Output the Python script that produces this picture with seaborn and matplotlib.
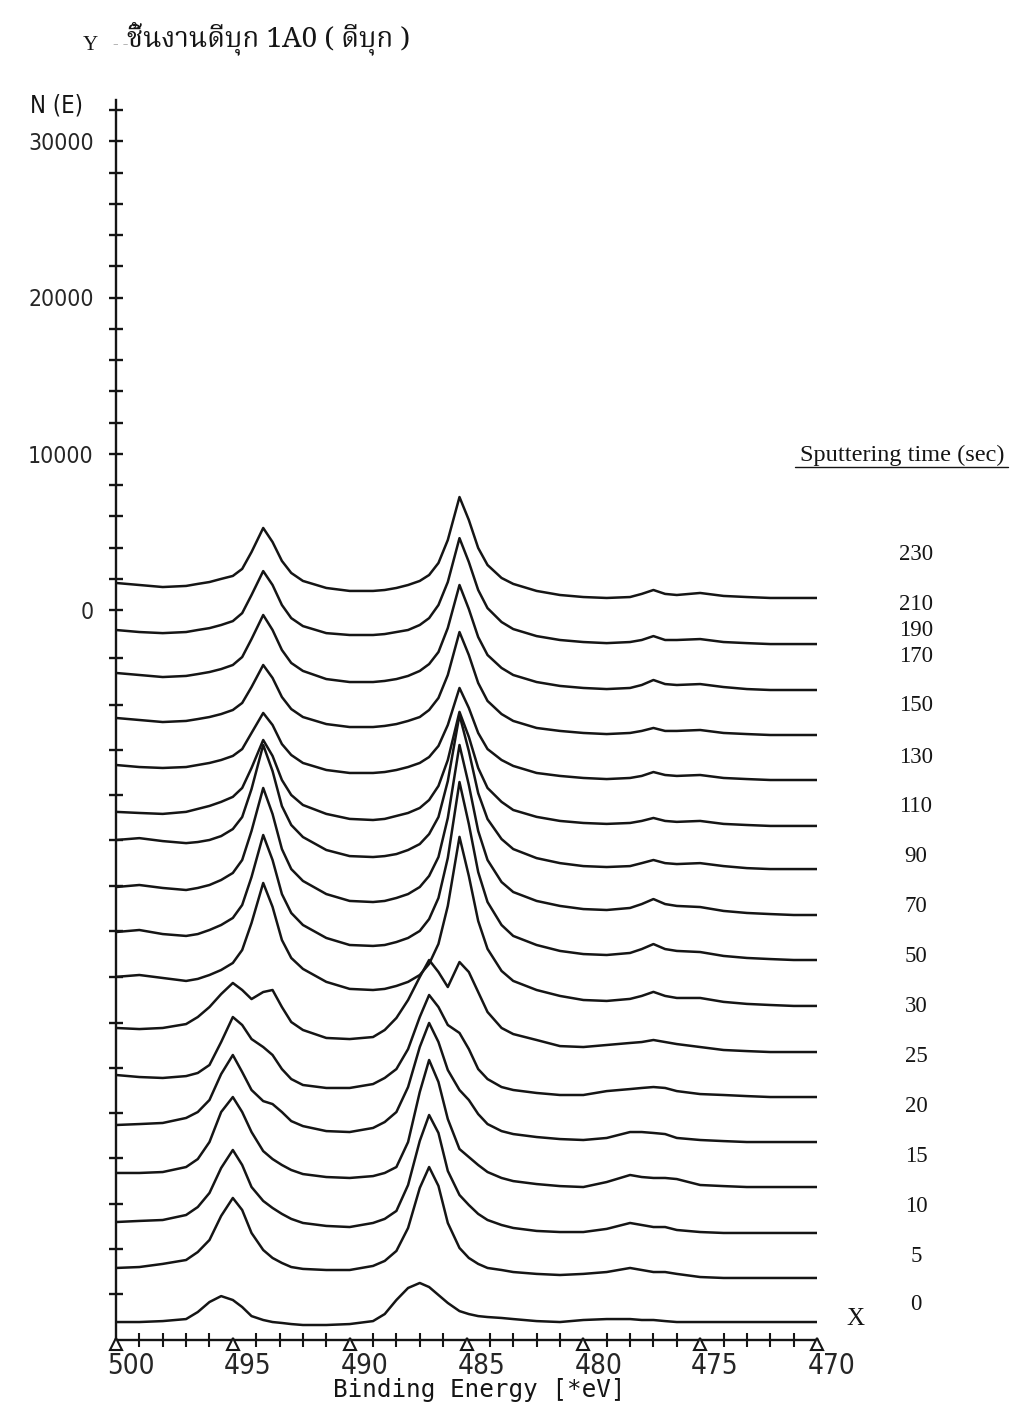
import numpy as np
import pandas as pd
import seaborn as sns
import matplotlib
matplotlib.use("Agg")
import matplotlib.pyplot as plt
from matplotlib import font_manager, ft2font
from matplotlib import transforms as mtransforms
from matplotlib.lines import Line2D

# ---------------- data ----------------
energy = [500, 499, 498, 497, 496.5, 496, 495.5, 495.0, 494.6, 494.2, 493.7, 493.3,
          492.9, 492.5, 492, 491, 490, 489, 488.5, 488, 487.5, 487.0, 486.6, 486.2,
          485.8, 485.3, 484.9, 484.5, 484.1, 483.5, 483, 482, 481, 480, 479, 478,
          477.5, 477, 476.5, 476, 475, 474, 473, 472, 471, 470]

sputter_times = [230, 210, 190, 170, 150, 130, 110, 90, 70, 50, 30, 25, 20, 15, 10, 5, 0]

# vertical offset of every spectrum (N(E) counts at the 470 eV end)
offsets = [770, -2180, -5120, -8000, -10880, -13820, -16580, -19520, -22400,
           -25340, -28290, -31170, -34050, -36930, -39870, -42750, -45570]

# N(E) above each spectrum's own offset, counts
n_230 = [960, 830, 700, 770, 900, 1020, 1220, 1410, 1860, 2940, 4480, 3580, 2370, 1600, 1090, 640, 450, 450, 510, 640, 830, 1090, 1470, 2240, 3710, 6460, 4990, 3200, 2110, 1280, 900, 450, 190, 60, 0, 60, 260, 510, 260, 190, 320, 130, 60, 0, 0, 0]
n_210 = [900, 770, 700, 770, 900, 1020, 1220, 1470, 1980, 3140, 4670, 3780, 2500, 1660, 1150, 700, 580, 580, 640, 770, 900, 1220, 1660, 2500, 3970, 6780, 5250, 3460, 2300, 1410, 960, 510, 260, 130, 60, 130, 260, 510, 260, 260, 320, 130, 60, 0, 0, 0]
n_190 = [1090, 960, 830, 900, 1020, 1150, 1340, 1600, 2110, 3260, 4800, 3840, 2560, 1730, 1220, 700, 510, 510, 580, 700, 900, 1220, 1660, 2430, 3970, 6720, 5180, 3390, 2240, 1410, 960, 510, 260, 130, 60, 130, 320, 640, 380, 320, 380, 190, 60, 0, 0, 0]
n_170 = [1090, 960, 830, 900, 1020, 1150, 1340, 1600, 2050, 3070, 4480, 3650, 2430, 1660, 1150, 700, 510, 510, 580, 700, 900, 1150, 1600, 2370, 3840, 6590, 5120, 3330, 2180, 1340, 900, 450, 260, 130, 60, 130, 260, 450, 260, 260, 320, 130, 60, 0, 0, 0]
n_150 = [960, 830, 770, 830, 960, 1090, 1280, 1540, 1980, 3010, 4290, 3520, 2300, 1600, 1090, 640, 450, 450, 510, 640, 830, 1090, 1470, 2180, 3520, 5890, 4610, 3010, 1980, 1280, 900, 450, 260, 130, 60, 130, 260, 510, 320, 260, 320, 130, 60, 0, 0, 0]
n_130 = [900, 830, 770, 900, 1090, 1280, 1540, 1860, 2430, 3710, 5500, 4480, 2940, 1980, 1340, 770, 450, 380, 450, 640, 830, 1150, 1660, 2560, 4220, 7300, 5700, 3710, 2430, 1540, 1020, 580, 320, 190, 130, 190, 320, 510, 320, 260, 320, 130, 60, 0, 0, 0]
n_110 = [1860, 1980, 1790, 1660, 1730, 1860, 2110, 2560, 3330, 5120, 7940, 6270, 4030, 2820, 2050, 1220, 830, 770, 830, 960, 1220, 1600, 2240, 3330, 5630, 9860, 7550, 4860, 3200, 1920, 1280, 700, 380, 190, 130, 190, 380, 580, 380, 320, 380, 190, 60, 0, 0, 0]
n_90 = [1790, 1920, 1730, 1600, 1730, 1920, 2240, 2690, 3520, 5380, 8130, 6460, 4220, 2940, 2180, 1340, 900, 830, 900, 1090, 1340, 1790, 2500, 3710, 6210, 10880, 8320, 5380, 3520, 2110, 1470, 900, 580, 380, 320, 450, 700, 1020, 700, 580, 510, 260, 130, 60, 0, 0]
n_70 = [1790, 1920, 1660, 1540, 1660, 1920, 2240, 2690, 3520, 5310, 8000, 6400, 4220, 3010, 2240, 1410, 960, 900, 960, 1150, 1410, 1860, 2620, 3970, 6530, 11390, 8700, 5630, 3710, 2240, 1540, 960, 580, 380, 320, 450, 700, 1020, 700, 580, 510, 260, 130, 60, 0, 0]
n_50 = [1860, 1980, 1790, 1600, 1730, 1980, 2300, 2750, 3580, 5310, 7870, 6340, 4220, 3070, 2370, 1540, 1090, 1020, 1090, 1280, 1540, 1980, 2690, 3970, 6400, 10820, 8320, 5440, 3650, 2240, 1600, 1020, 640, 380, 320, 450, 640, 900, 640, 510, 510, 260, 130, 60, 0, 0]
n_30 = [1540, 1470, 1540, 1790, 2240, 2880, 3710, 4420, 3970, 3390, 3840, 3970, 2880, 1920, 1410, 900, 830, 960, 1410, 2180, 3330, 4800, 5890, 5120, 4160, 5760, 5120, 3840, 2560, 1540, 1150, 770, 380, 320, 450, 580, 640, 770, 640, 510, 320, 130, 60, 0, 0, 0]
n_25 = [1410, 1280, 1220, 1340, 1540, 2050, 3520, 5120, 4610, 3710, 3200, 2690, 1790, 1150, 770, 580, 580, 830, 1220, 1790, 3070, 5120, 6530, 5760, 4610, 4100, 3070, 1790, 1150, 640, 450, 260, 130, 130, 380, 510, 580, 640, 580, 380, 190, 130, 60, 0, 0, 0]
n_20 = [1090, 1150, 1220, 1540, 1920, 2690, 4350, 5570, 4480, 3330, 2620, 2430, 1920, 1340, 1020, 700, 640, 900, 1280, 1920, 3520, 6080, 7620, 6400, 4610, 3330, 2690, 1790, 1150, 700, 510, 320, 190, 130, 260, 640, 640, 580, 510, 260, 130, 60, 0, 0, 0, 0]
n_15 = [900, 900, 960, 1280, 1790, 2880, 4800, 5760, 4800, 3520, 2300, 1790, 1410, 1090, 830, 640, 580, 700, 900, 1280, 2880, 6080, 8130, 6720, 4350, 2430, 1920, 1410, 960, 580, 380, 190, 60, 0, 320, 770, 640, 580, 580, 510, 130, 60, 0, 0, 0, 0]
n_10 = [700, 770, 830, 1150, 1660, 2560, 4160, 5310, 4350, 2940, 2050, 1600, 1220, 900, 640, 450, 380, 640, 900, 1410, 3070, 5890, 7550, 6400, 3970, 2430, 1790, 1220, 830, 510, 320, 130, 60, 60, 260, 640, 510, 380, 380, 190, 60, 0, 0, 0, 0, 0]
n_5 = [640, 700, 900, 1150, 1660, 2430, 3970, 5120, 4350, 2880, 1790, 1280, 960, 700, 580, 510, 510, 770, 1090, 1730, 3200, 5760, 7100, 5890, 3520, 1920, 1280, 900, 640, 510, 380, 260, 190, 260, 380, 640, 510, 380, 380, 260, 60, 0, 0, 0, 0, 0]
n_0 = [0, 0, 60, 190, 640, 1280, 1660, 1410, 960, 380, 130, 0, -60, -130, -190, -190, -130, 60, 510, 1410, 2180, 2500, 2240, 1730, 1220, 700, 510, 380, 320, 260, 190, 60, 0, 130, 190, 190, 130, 130, 60, 0, 0, 0, 0, 0, 0, 0]

spectra = [n_230, n_210, n_190, n_170, n_150, n_130, n_110, n_90, n_70, n_50,
           n_30, n_25, n_20, n_15, n_10, n_5, n_0]

# axis ticks / labels
y_major = [0, 10000, 20000, 30000]
y_minor_up = [2000, 4000, 6000, 8000, 12000, 14000, 16000, 18000, 22000, 24000,
              26000, 28000, 32000]
y_minor_down = [-3100, -6080, -8960, -11840, -14720, -17660, -20540, -23490,
                -26430, -29310, -32190, -35070, -38020, -40900, -43780]
x_major = [500, 495, 490, 485, 480, 475, 470]
x_minor = [e for e in range(470, 501) if e % 5 != 0]

# ---------------- layout / style ----------------
W, H = 1017, 1410
rows = []
for t, off, spec in zip(sputter_times, offsets, spectra):
    assert len(spec) == len(energy)
    for e, v in zip(energy, spec):
        rows.append({"energy": e, "N": off + v, "time": t})
df = pd.DataFrame(rows)

sns.set_style("white")
plt.rcParams["font.family"] = ["DejaVu Sans"]


def thai_family():
    prefs = ["Noto Serif Thai", "Norasi", "Kinnari", "Laksaman", "TH Sarabun New",
             "Noto Sans Thai", "Loma", "Garuda", "Waree", "Umpush", "Sawasdee"]
    found = []
    for f in font_manager.fontManager.ttflist:
        try:
            cm = ft2font.FT2Font(f.fname).get_charmap()
        except Exception:
            continue
        if 0x0E0A in cm and 0x0E49 in cm:
            found.append(f.name)
    for p in prefs:
        if p in found:
            return p
    return found[0] if found else "DejaVu Sans"


thai = thai_family()
serif = ["Liberation Serif", "DejaVu Serif"]
INK = "#151515"

fig = plt.figure(figsize=(W / 100, H / 100), dpi=100)
ax_l, ax_r, ax_t, ax_b = 116, 817, 100, 1340
ax = fig.add_axes([ax_l / W, 1 - ax_b / H, (ax_r - ax_l) / W, (ax_b - ax_t) / H])
ax.set_facecolor("white")

sns.lineplot(data=df, x="energy", y="N", units="time", estimator=None, sort=False,
             color=INK, lw=1.8, ax=ax, legend=False)

ax.set_xlim(500, 470)
ax.set_ylim(-46720, 32640)

for s in ["top", "right"]:
    ax.spines[s].set_visible(False)
for s in ["left", "bottom"]:
    ax.spines[s].set_color(INK)
    ax.spines[s].set_linewidth(1.7)

ax.set_yticks(y_major)
ax.set_yticklabels([str(v) for v in y_major], family="DejaVu Sans",
                   fontstretch="condensed", fontsize=16.5)
ax.set_yticks(y_minor_up + y_minor_down, minor=True)
ax.tick_params(axis="y", which="both", left=True, direction="inout", length=10,
               width=1.7, color=INK, pad=11)

ax.set_xticks(x_major)
ax.set_xticklabels([str(v) for v in x_major], family="DejaVu Sans",
                   fontstretch="condensed", fontsize=20)
ax.set_xticks(x_minor, minor=True)
ax.tick_params(axis="x", which="minor", bottom=True, direction="inout", length=10,
               width=1.5, color=INK)
ax.tick_params(axis="x", which="major", bottom=True, length=0, pad=9)
shift = mtransforms.ScaledTranslation(-9 / 100, 0, fig.dpi_scale_trans)
for lbl in ax.get_xticklabels():
    lbl.set_horizontalalignment("left")
    lbl.set_transform(lbl.get_transform() + shift)

# hollow triangles at the labelled energies, hanging just under the axis
tri_tr = ax.get_xaxis_transform() + mtransforms.ScaledTranslation(0, -4 / 100, fig.dpi_scale_trans)
ax.plot(x_major, [0] * len(x_major), transform=tri_tr,
        ls="none", marker="^", ms=9, mfc="white", mec=INK, mew=1.5,
        clip_on=False, zorder=5)

ax.set_xlabel("Binding Energy [*eV]", family="DejaVu Sans Mono", fontsize=17.5,
              color=INK)
ax.set_ylabel("")
ax.xaxis.set_label_coords((479 - ax_l) / (ax_r - ax_l), -38 / (ax_b - ax_t))


def fx(px):
    return px / W


def fy(py):
    return 1 - py / H


fig.text(fx(127), fy(38), "ชิ้นงานดีบุก 1A0 ( ดีบุก )", family=[thai] + serif,
         fontsize=20, ha="left", va="center", color=INK)
fig.text(fx(90), fy(46), "Y", family=serif, fontsize=15, ha="center",
         va="center", color=INK)
fig.text(fx(121), fy(44), "- -", family=serif, fontsize=12, ha="center",
         va="center", color="#a0a0a0")
fig.text(fx(57), fy(106), "N (E)", family="DejaVu Sans", fontstretch="condensed",
         fontsize=17, ha="center", va="center", color=INK)
fig.text(fx(855), fy(1319), "X", family=serif, fontsize=18, ha="center",
         va="center", color=INK)

fig.text(fx(902), fy(455), "Sputtering time (sec)", family=serif, fontsize=17.5,
         ha="center", va="center", color=INK)
fig.add_artist(Line2D([fx(795), fx(1008)], [fy(467), fy(467)],
                      transform=fig.transFigure, color=INK, lw=1.0))

label_y = [555, 605, 631, 656, 706, 757, 806, 856, 906, 957, 1007, 1057, 1107,
           1157, 1207, 1257, 1305]
for t, py in zip(sputter_times, label_y):
    fig.text(fx(916), fy(py), str(t), family=serif, fontsize=16.5, ha="center",
             va="center", color=INK)

fig.savefig("out.png", dpi=100, facecolor="white")
